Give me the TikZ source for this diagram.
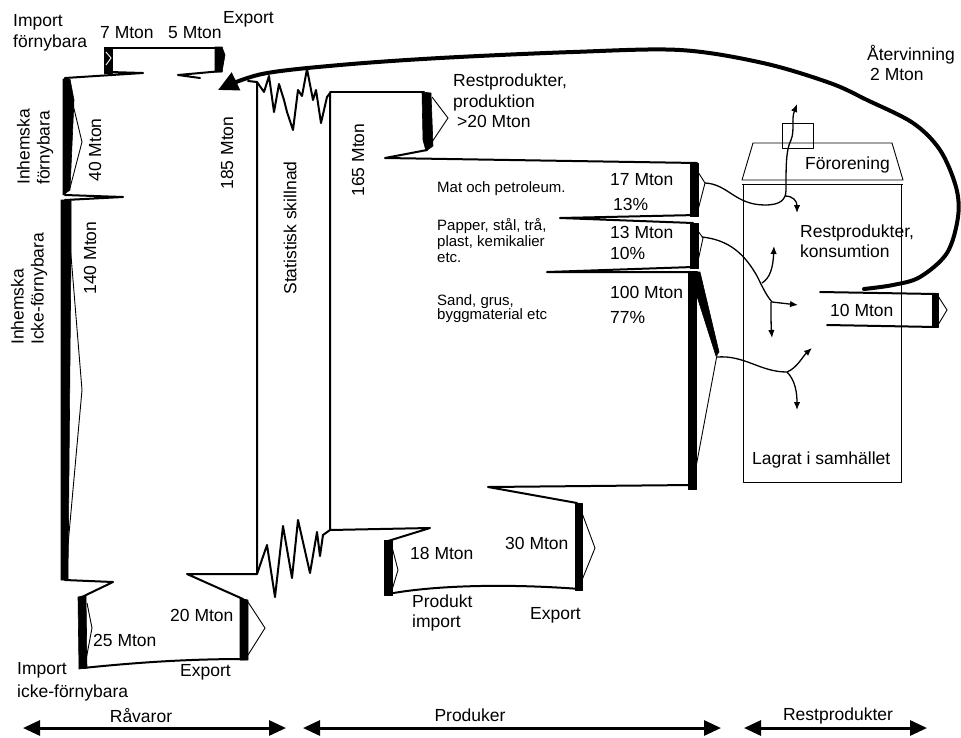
\documentclass[tikz,border=0pt]{standalone}
\usepackage{fontspec}
\setmainfont{Liberation Sans}
\usetikzlibrary{arrows.meta}
\begin{document}
\begin{tikzpicture}[x=1pt,y=-1pt,
  ln/.style={line width=2pt, line join=round, line cap=round},
  thn/.style={line width=0.9pt, line join=round},
  barfill/.style={fill=black, draw=black, line width=0.6pt, line join=round},
  chev/.style={line width=0.9pt, line join=miter},
  lbl/.style={font=\fontsize{17.5}{20.5}\selectfont, inner sep=0pt, anchor=west, align=left},
  sml/.style={font=\fontsize{15}{16}\selectfont, inner sep=0pt, anchor=west, align=left},
  rot/.style={font=\fontsize{17.5}{20}\selectfont, inner sep=0pt, rotate=90},
  brn/.style={line width=1.3pt, line join=round, -{Latex[length=8pt,width=6.5pt]}},
  recyc/.style={line width=4pt, line cap=round, -{Triangle[length=20pt,width=19pt]}},
  axis/.style={line width=3pt, {Triangle[length=17pt,width=15pt]}-{Triangle[length=17pt,width=15pt]}}
]
\useasboundingbox (0,0) rectangle (961,737);

% ---------- Raw materials column ----------
\draw[ln] (108,48) -- (222,48);
\fill[barfill] (104,47) -- (112,47) -- (112,73) -- (104,73) -- cycle;
\draw[white,chev] (106,52) -- (111,58) -- (106,65);
\fill[barfill] (215,47) -- (222,47) -- (225,55) -- (222,72) -- (215,72) -- cycle;
\draw[ln] (110,72) -- (143,73) -- (65,78) -- (65,195) -- (123,197) -- (65,200)
          -- (65,580) -- (113,582) -- (84,596);
\fill[barfill] (63,79) -- (70,79) -- (74,100) -- (70,190) -- (63,195) -- cycle;
\draw[chev] (70,92) -- (82,142) -- (70,188);
\fill[barfill] (61,200) -- (71,200) -- (71,250) -- (68,580) -- (61,580) -- cycle;
\draw[chev] (70,243) -- (82,390) -- (68,545);
\draw[ln] (200,78) -- (178,75) -- (222,71);
\draw[ln] (248,81) -- (257,82) -- (257,574) -- (187,574) -- (243,599);
\fill[barfill] (78,597) -- (86,595) -- (87,668) -- (79,669) -- cycle;
\draw[chev] (87,603) -- (92,628) -- (86,660);
\draw[ln] (83,668) .. controls (150,661) and (200,659) .. (245,659);
\fill[barfill] (240,598) -- (248,600) -- (248,660) -- (240,660) -- cycle;
\draw[chev] (248,602) -- (265,628) -- (248,655);

% ---------- Statistical difference (zigzags) ----------
\draw[ln] (257,82) -- (264,92) -- (269,76) -- (274,112) -- (279,84) -- (284,100) -- (287,112)
  -- (293,130) -- (298,90) -- (302,96) -- (307,69) -- (313,100) -- (316,90) -- (321,123)
  -- (327,97) -- (330,93);
\draw[ln] (257,574) -- (267,545) -- (275,597) -- (283,526) -- (292,578) -- (298,520)
  -- (310,573) -- (317,532) -- (320,556) -- (323,535) -- (330,530);

% ---------- Products column ----------
\draw[ln] (330,92) -- (424,92);
\draw[ln] (330,93) -- (330,530) -- (430,528) -- (388,541);
\fill[barfill] (422,92) -- (431,93) -- (433,146) -- (426,151) -- (423,140) -- cycle;
\draw[chev] (432,97) -- (448,118) -- (432,142);
\draw[ln] (427,150) -- (385,158) -- (697,163);
\fill[barfill] (690,163) -- (698,163) -- (698,216) -- (690,216) -- cycle;
\draw[chev] (698,172) -- (705,183) -- (698,210);
\draw[ln] (697,215) -- (560,218) -- (693,223);
\fill[barfill] (690,223) -- (698,223) -- (698,268) -- (690,268) -- cycle;
\draw[chev] (698,231) -- (703,238) -- (698,261);
\draw[ln] (693,267) -- (547,272) -- (697,272);
\fill[barfill] (688,272) -- (696,272) -- (696,489) -- (688,489) -- cycle;
\fill[barfill] (695,272) -- (700,272) -- (719,352) -- (716,356) -- (695,290) -- cycle;
\draw[chev] (717,355) -- (693,483);
\draw[ln] (692,485) -- (488,487) -- (577,503);
\fill[barfill] (575,503) -- (582,503) -- (582,590) -- (575,590) -- cycle;
\draw[chev] (582,513) -- (595,548) -- (582,580);
\draw[ln] (580,589) .. controls (500,583) and (430,586) .. (388,594);
\fill[barfill] (384,540) -- (392,540) -- (392,595) -- (384,595) -- cycle;
\draw[chev] (392,547) -- (398,570) -- (392,590);

% ---------- Society building ----------
\draw[thn] (753,143) -- (892,143) -- (903,180) -- (742,180) -- cycle;
\draw[thn] (742,184) -- (903,184);
\draw[thn] (743,184) rectangle (901,482);
\draw[thn] (782,123) rectangle (813,148);

% branching flows
\draw[brn] (705,183) .. controls (728,184) and (735,205) .. (765,205)
   .. controls (780,205) and (786,200) .. (786,190)
   .. controls (786,165) and (786,150) .. (791,140)
   .. controls (795,130) and (791,120) .. (797,104);
\draw[brn] (785,196) .. controls (793,196) and (797,201) .. (797,213);
\draw[brn] (702,237) .. controls (730,240) and (745,255) .. (757,276)
   .. controls (762,286) and (766,295) .. (772,302) -- (798,305);
\draw[brn] (771,302) .. controls (771,315) and (771,325) .. (772,338);
\draw[brn] (762,283) .. controls (770,278) and (773,268) .. (774,246);
\draw[brn] (717,357) .. controls (745,355) and (760,372) .. (787,372)
   .. controls (797,368) and (803,356) .. (812,348);
\draw[brn] (787,372) .. controls (795,380) and (797,392) .. (797,410);

% 10 Mton
\draw[ln] (820,292) -- (936,294);
\draw[ln] (827,325) -- (936,327);
\fill[barfill] (932,293) -- (938,293) -- (938,327) -- (932,327) -- cycle;
\draw[chev] (938,296) -- (947,310) -- (938,325);

% recycling
\draw[recyc] plot[smooth, tension=0.55] coordinates {(864,289) (893,285) (920,277) (947,253)
  (958,217) (956,187) (940,150) (913,123) (867,100) (830,83) (763,63) (680,50) (573,52)
  (440,58) (340,65) (262,74) (218,90)};

% ---------- bottom axes ----------
\draw[axis] (23,728) -- (286,728);
\draw[axis] (303,728) -- (721,728);
\draw[axis] (744,728) -- (927,728);

% ---------- labels ----------
\node[lbl] (timpf) at (13,33) {Import\\förnybara};
\node[lbl] (t7) at (100,33) {7 Mton};
\node[lbl] (t5) at (168,33) {5 Mton};
\node[lbl] (texp1) at (223,19) {Export};
\node[lbl] (trest) at (453,101) {Restprodukter,\\produktion\\\hspace*{4pt}\textgreater 20 Mton};
\node[lbl] (tater) at (867,63) {Återvinning\\\hspace*{3pt}2 Mton};
\node[lbl] (tfor) at (805,165) {Förorening};
\node[lbl] (tkons) at (800,241) {Restprodukter,\\konsumtion};
\node[lbl] (t10) at (830,310) {10 Mton};
\node[lbl] (tlag) at (752,460) {Lagrat i samhället};
\node[sml] (tmat) at (437,189) {Mat och petroleum.};
\node[lbl] (t17) at (610,180) {17 Mton};
\node[lbl] (t13p) at (613,204) {13\%};
\node[sml] (tpap) at (437,241) {Papper, stål, trå,\\plast, kemikalier\\etc.};
\node[lbl] (t13) at (610,232) {13 Mton};
\node[lbl] (t10p) at (610,253) {10\%};
\node[sml, font=\fontsize{15}{14}\selectfont] (tsand) at (437,309) {Sand, grus,\\byggmaterial etc};
\node[lbl] (t100) at (610,292) {100 Mton};
\node[lbl] (t77) at (610,317) {77\%};
\node[lbl] (t18) at (410,553) {18 Mton};
\node[lbl] (t30) at (505,543) {30 Mton};
\node[lbl] (tprod) at (412,613) {Produkt\\import};
\node[lbl] (texp3) at (530,615) {Export};
\node[lbl] (t20) at (170,615) {20 Mton};
\node[lbl] (t25) at (93,640) {25 Mton};
\node[lbl, font=\fontsize{17.5}{23}\selectfont] (timpi) at (17,682) {Import\\icke-förnybara};
\node[lbl] (texp2) at (180,672) {Export};

\node[rot] (t185) at (227,153) {185 Mton};
\node[rot] (t40) at (95,150) {40 Mton};
\node[rot] (t140) at (90,258) {140 Mton};
\node[rot] (t165) at (358,160) {165 Mton};
\node[rot] (tstat) at (290,228) {Statistisk skillnad};
\node[rot, anchor=west, align=left] (tinf) at (35,185) {Inhemska\\förnybara};
\node[rot, anchor=west, align=left] (tinif) at (29,345) {Inhemska\\Icke-förnybara};

\node[lbl, anchor=center] (traw) at (141,716) {Råvaror};
\node[lbl, anchor=center] (tprk) at (470,715) {Produker};
\node[lbl, anchor=center] (trp) at (838,716) {Restprodukter};
\end{tikzpicture}
\end{document}
